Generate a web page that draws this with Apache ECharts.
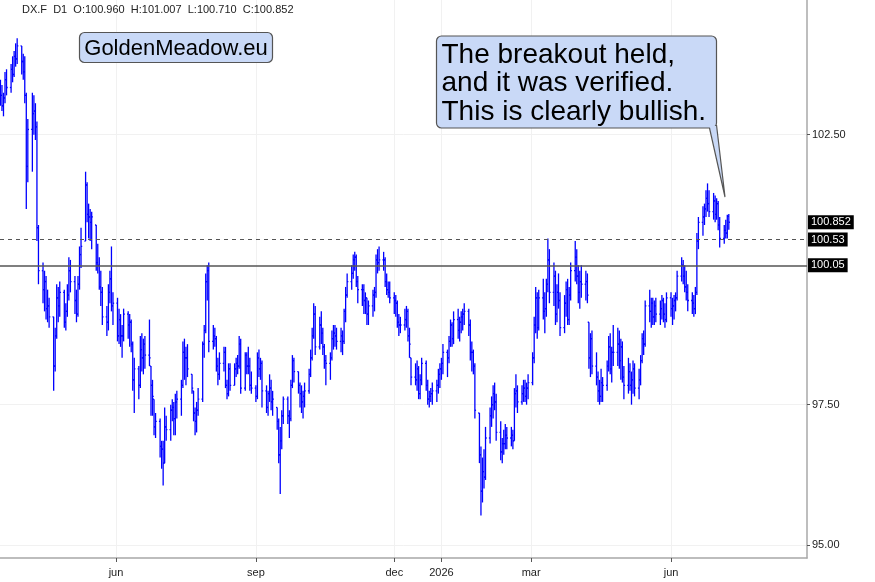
<!DOCTYPE html>
<html>
<head>
<meta charset="utf-8">
<title>DX.F D1</title>
<script src="https://cdn.jsdelivr.net/npm/echarts@6/dist/echarts.min.js"></script>
<style>
  html, body { margin: 0; padding: 0; background: #fff; }
  #chart { width: 875px; height: 582px; }
</style>
</head>
<body>
<div id="chart"></div>
<script>
// daily bars, one row per week (Mon..Fri), first bar 2025-03-17
const startDate = '2025-03-17'
const firstOpen = 103.35

const highs = [
  103.55, 103.45, 103.30, 103.70, 103.75,
  103.85, 104.00, 104.10, 104.25, 104.35,
  104.20, 104.05, 104.00, 103.30, 102.80,
  103.30, 103.25, 103.10, 102.75, 100.80,
  100.10, 99.95, 99.85, 99.60, 99.45,
  99.10, 98.90, 99.70, 99.65, 99.75,
  99.60, 99.35, 99.70, 100.20, 100.15,
  99.85, 99.60, 99.85, 100.40, 100.75,
  101.80, 101.60, 101.20, 101.10, 101.05,
  100.80, 100.45, 100.20, 99.95, 99.65,
  99.30, 99.70, 99.95, 100.40, 99.55,
  99.45, 99.25, 99.15, 98.95, 99.25,
  99.20, 99.15, 99.05, 98.65, 98.35,
  98.20, 98.75, 98.80, 98.70, 98.75,
  99.05, 98.20, 97.95, 97.60, 97.35,
  97.25, 96.85, 96.85, 97.45, 97.30,
  97.50, 97.60, 97.55, 97.70, 97.75,
  97.95, 98.65, 98.70, 98.55, 98.60,
  98.05, 97.75, 97.45, 97.55, 97.80,
  98.65, 98.95, 99.90, 100.05, 100.10,
  98.95, 98.90, 98.75, 98.35, 98.45,
  98.55, 98.55, 97.95, 98.25, 98.25,
  98.25, 98.35, 98.40, 98.75, 98.70,
  98.45, 98.45, 98.55, 98.35, 98.10,
  97.85, 98.45, 98.50, 98.35, 98.30,
  97.85, 97.75, 98.05, 97.95, 97.75,
  97.45, 97.25, 97.10, 97.40, 97.65,
  97.65, 97.40, 97.95, 98.40, 98.35,
  98.10, 97.90, 97.85, 97.75, 97.90,
  98.15, 98.50, 98.90, 99.35, 99.30,
  99.10, 99.20, 98.90, 98.60, 98.40,
  98.45, 98.85, 98.95, 98.95, 98.90,
  98.90, 98.85, 99.25, 99.65, 99.90,
  100.05, 100.25, 100.30, 100.25, 99.85,
  99.70, 99.70, 99.55, 99.45, 99.40,
  99.60, 99.65, 100.25, 100.35, 100.40,
  100.30, 100.20, 99.90, 99.75, 99.75,
  99.55, 99.50, 99.40, 99.15, 99.10,
  99.25, 99.30, 99.25, 98.90, 98.35,
  98.25, 98.30, 98.20, 98.05, 98.35,
  98.30, 97.95, 97.75, 97.80, 97.90,
  97.95, 98.15, 98.25, 98.35, 98.60,
  98.50, 98.75, 99.05, 99.00, 99.20,
  99.25, 99.10, 99.20, 99.25, 99.35,
  99.25, 99.05, 98.65, 98.50, 98.25,
  97.35, 96.75, 96.55, 96.70, 97.10,
  97.45, 97.65, 97.85, 97.90, 97.70,
  97.20, 96.90, 97.05, 97.15, 97.10,
  97.10, 97.05, 97.80, 98.05, 97.85,
  97.85, 97.95, 97.95, 97.90, 98.05,
  98.45, 99.10, 99.65, 99.55, 99.60,
  99.80, 99.55, 99.80, 100.55, 100.35,
  100.10, 99.95, 99.70, 99.90, 99.55,
  99.50, 99.75, 99.80, 99.65, 100.10,
  100.50, 100.35, 100.05, 99.95, 100.05,
  99.95, 99.90, 99.00, 98.80, 98.85,
  98.45, 98.10, 97.95, 98.15, 98.00,
  98.30, 98.75, 98.80, 98.55, 98.95,
  98.90, 98.85, 98.70, 98.65, 98.20,
  98.35, 98.25, 98.10, 98.30, 98.25,
  98.15, 98.40, 98.80, 98.85, 99.40,
  99.60, 99.45, 99.45, 99.40, 99.45,
  99.40, 99.50, 99.45, 99.35, 99.55,
  99.55, 99.45, 99.50, 99.55, 99.95,
  100.20, 100.15, 100.05, 99.95, 99.70,
  99.55, 99.50, 99.65, 100.65, 100.95,
  101.15, 101.20, 101.45, 101.58, 101.45,
  101.40, 101.35, 101.30, 101.25, 100.95,
  100.80, 100.90, 100.99, 101.007
]

const lows = [
  103.05, 102.95, 102.85, 103.10, 103.25,
  103.30, 103.50, 103.60, 103.80, 103.85,
  103.65, 103.55, 103.10, 101.10, 101.60,
  101.80, 102.50, 102.40, 100.50, 99.70,
  99.35, 99.20, 99.05, 99.00, 98.90,
  97.75, 98.10, 98.70, 99.00, 99.10,
  98.90, 98.85, 99.10, 99.40, 99.55,
  99.15, 99.00, 99.10, 99.60, 100.00,
  100.50, 100.85, 100.55, 100.50, 100.35,
  99.95, 99.90, 99.60, 99.30, 98.95,
  98.75, 98.85, 99.35, 99.20, 98.95,
  98.65, 98.60, 98.55, 98.35, 98.65,
  98.70, 98.55, 98.45, 97.75, 97.35,
  97.60, 97.80, 98.10, 98.05, 98.15,
  98.20, 97.30, 97.30, 96.95, 96.90,
  96.55, 96.35, 96.05, 96.45, 96.85,
  96.85, 97.20, 96.95, 96.95, 97.25,
  97.30, 97.80, 97.95, 97.85, 98.00,
  97.70, 97.20, 96.95, 97.00, 97.30,
  97.55, 98.35, 98.80, 99.40, 98.45,
  98.50, 98.55, 98.10, 97.85, 97.95,
  98.10, 97.80, 97.60, 97.65, 97.75,
  97.85, 98.00, 98.05, 98.15, 97.70,
  97.75, 98.05, 98.05, 97.75, 97.70,
  97.55, 97.60, 98.00, 97.95, 97.45,
  97.35, 97.30, 97.55, 97.40, 97.30,
  97.05, 96.45, 95.90, 96.70, 97.15,
  97.15, 96.90, 97.20, 97.80, 97.90,
  97.70, 97.45, 97.35, 97.25, 97.45,
  97.70, 98.00, 98.30, 98.70, 98.40,
  98.50, 98.60, 98.40, 98.15, 97.85,
  97.95, 98.30, 98.50, 98.55, 98.50,
  98.45, 98.40, 98.60, 99.00, 99.45,
  99.60, 99.80, 99.95, 99.65, 99.35,
  99.30, 99.15, 99.15, 98.95, 98.95,
  99.10, 99.20, 99.45, 99.90, 99.95,
  99.95, 99.65, 99.50, 99.45, 99.35,
  99.15, 99.10, 98.90, 98.75, 98.80,
  98.85, 98.90, 98.65, 98.35, 97.85,
  97.85, 97.75, 97.60, 97.60, 97.85,
  97.75, 97.50, 97.45, 97.55, 97.50,
  97.55, 97.70, 97.80, 97.95, 98.05,
  98.00, 98.25, 98.55, 98.55, 98.60,
  98.70, 98.65, 98.80, 98.85, 98.95,
  98.75, 98.30, 98.10, 98.05, 97.25,
  96.45, 95.52, 95.75, 96.00, 96.15,
  96.80, 97.10, 97.25, 97.40, 96.85,
  96.50, 96.45, 96.60, 96.70, 96.70,
  96.75, 96.70, 96.85, 97.45, 97.35,
  97.50, 97.55, 97.55, 97.50, 97.60,
  97.85, 98.25, 98.80, 98.70, 98.85,
  99.05, 98.80, 99.10, 99.55, 99.35,
  99.30, 98.95, 99.00, 99.25, 98.75,
  98.80, 99.10, 98.95, 98.95, 99.40,
  99.75, 99.70, 99.35, 99.25, 99.45,
  99.40, 99.35, 98.15, 98.00, 98.05,
  97.85, 97.55, 97.50, 97.55, 97.55,
  97.75, 98.10, 98.05, 97.90, 98.20,
  98.20, 98.15, 97.95, 97.90, 97.60,
  97.70, 97.75, 97.50, 97.70, 97.65,
  97.60, 97.85, 98.25, 98.40, 98.55,
  99.00, 98.90, 98.95, 98.95, 99.00,
  98.95, 99.05, 99.00, 98.90, 99.00,
  99.10, 98.95, 99.05, 99.20, 99.40,
  99.75, 99.70, 99.55, 99.40, 99.20,
  99.15, 99.10, 99.15, 99.50, 100.35,
  100.60, 100.80, 100.95, 101.05, 100.95,
  100.90, 100.85, 100.90, 100.70, 100.38,
  100.45, 100.55, 100.55, 100.71
]

const closes = [
  103.25, 103.05, 103.20, 103.55, 103.40,
  103.75, 103.65, 104.00, 103.95, 104.20,
  103.90, 103.70, 103.25, 101.90, 102.60,
  102.90, 102.95, 102.65, 100.75, 99.95,
  99.60, 99.75, 99.25, 99.30, 99.10,
  98.20, 98.75, 99.45, 99.30, 99.55,
  99.00, 99.20, 99.50, 99.95, 99.75,
  99.40, 99.15, 99.70, 100.25, 100.40,
  101.55, 101.00, 100.95, 100.85, 100.95,
  100.10, 100.05, 99.65, 99.55, 99.10,
  99.00, 99.55, 99.80, 99.30, 99.35,
  98.75, 99.05, 98.75, 98.75, 99.15,
  98.95, 99.00, 98.60, 97.95, 98.15,
  97.85, 98.50, 98.35, 98.60, 98.40,
  98.35, 97.85, 97.65, 97.10, 97.20,
  96.75, 96.70, 96.45, 97.10, 97.05,
  97.40, 97.45, 97.25, 97.55, 97.60,
  97.85, 98.45, 98.35, 98.35, 98.15,
  97.80, 97.35, 97.20, 97.40, 97.60,
  98.60, 98.85, 99.75, 99.95, 98.65,
  98.75, 98.70, 98.20, 98.05, 98.25,
  98.45, 97.85, 97.70, 98.15, 97.85,
  98.15, 98.25, 98.20, 98.60, 97.80,
  98.40, 98.20, 98.20, 97.85, 97.80,
  97.65, 98.35, 98.15, 98.25, 97.75,
  97.45, 97.70, 97.80, 97.55, 97.60,
  97.20, 96.60, 96.85, 97.30, 97.60,
  97.30, 97.25, 97.85, 98.30, 98.10,
  97.85, 97.70, 97.55, 97.65, 97.75,
  98.05, 98.35, 98.75, 99.15, 98.55,
  98.95, 98.80, 98.55, 98.30, 98.25,
  98.35, 98.70, 98.80, 98.75, 98.65,
  98.75, 98.65, 99.20, 99.50, 99.75,
  99.90, 100.15, 100.20, 99.75, 99.60,
  99.60, 99.40, 99.45, 99.15, 99.30,
  99.50, 99.55, 100.15, 100.10, 100.15,
  100.15, 99.75, 99.60, 99.55, 99.45,
  99.40, 99.35, 99.00, 98.95, 98.95,
  99.05, 99.20, 98.75, 98.60, 98.00,
  97.95, 98.15, 97.70, 97.95, 98.25,
  97.85, 97.60, 97.65, 97.70, 97.75,
  97.85, 98.05, 98.15, 98.25, 98.45,
  98.35, 98.65, 98.95, 98.70, 99.05,
  98.85, 99.00, 99.10, 99.15, 99.20,
  98.95, 98.45, 98.45, 98.20, 97.40,
  96.60, 95.95, 96.30, 96.20, 96.90,
  97.30, 97.50, 97.70, 97.55, 97.00,
  96.65, 96.80, 96.80, 96.95, 96.90,
  96.95, 96.85, 97.70, 97.75, 97.55,
  97.70, 97.80, 97.65, 97.80, 97.90,
  98.35, 98.95, 99.45, 98.90, 99.45,
  99.20, 99.25, 99.70, 100.15, 99.55,
  99.85, 99.15, 99.55, 99.40, 98.90,
  99.35, 99.60, 99.05, 99.50, 99.95,
  100.20, 99.85, 99.55, 99.75, 99.70,
  99.75, 99.50, 98.35, 98.70, 98.20,
  98.00, 97.75, 97.65, 97.90, 97.85,
  98.20, 98.55, 98.15, 98.45, 98.45,
  98.60, 98.30, 98.55, 98.00, 97.85,
  98.10, 97.85, 97.95, 98.15, 97.80,
  97.95, 98.30, 98.70, 98.60, 99.30,
  99.20, 99.35, 99.10, 99.30, 99.15,
  99.25, 99.40, 99.15, 99.05, 99.45,
  99.25, 99.30, 99.40, 99.45, 99.85,
  100.05, 99.85, 99.65, 99.55, 99.40,
  99.35, 99.25, 99.55, 100.50, 100.85,
  100.95, 101.10, 101.30, 101.20, 101.05,
  101.25, 101.00, 101.20, 100.80, 100.55,
  100.70, 100.65, 100.96, 100.852
]

const xTickDates = ['2025-06-01', '2025-09-01', '2025-12-01', '2026-01-01', '2026-03-01', '2026-06-01']
const xTickLabels = ['jun', 'sep', 'dec', '2026', 'mar', 'jun']
const yTickValues = [95, 97.5, 102.5]
const supportLevel = 100.05
const retestLevel = 100.53
const lastPrice = 100.852

const FONT = '"Liberation Sans", Arial, Helvetica, sans-serif'
const BAR_BLUE = '#0000ff'
const NOTE_FILL = '#c9d9f7'

function utc (s) {
  const p = s.split('-').map(Number)
  return Date.UTC(p[0], p[1] - 1, p[2])
}

// weekday dates for every bar
const dates = []
let t = utc(startDate)
while (dates.length < closes.length) {
  const wd = new Date(t).getUTCDay()
  if (wd !== 0 && wd !== 6) dates.push(t)
  t += 86400000
}

// rows: [time, open, close, low, high]; open is the previous close kept inside the bar range
const ohlc = closes.map((c, i) => {
  const prev = i === 0 ? firstOpen : closes[i - 1]
  const o = Math.min(Math.max(prev, lows[i]), highs[i])
  return [dates[i], o, c, lows[i], highs[i]]
})

const tickTimes = xTickDates.map(utc)

// OHLC bar: high-low stroke, open tick left, close tick right
function renderBar (params, api) {
  const x = api.value(0)
  const pO = api.coord([x, api.value(1)])
  const pC = api.coord([x, api.value(2)])
  const pL = api.coord([x, api.value(3)])
  const pH = api.coord([x, api.value(4)])
  const style = { stroke: BAR_BLUE, lineWidth: 1.3 }
  return {
    type: 'group',
    children: [
      { type: 'line', shape: { x1: pH[0], y1: pH[1], x2: pL[0], y2: pL[1] }, style },
      { type: 'line', shape: { x1: pO[0] - 1.2, y1: pO[1], x2: pO[0], y2: pO[1] }, style },
      { type: 'line', shape: { x1: pC[0], y1: pC[1], x2: pC[0] + 1.2, y2: pC[1] }, style }
    ]
  }
}

const chart = echarts.init(document.getElementById('chart'))

const option = {
  animation: false,
  backgroundColor: '#fff',
  grid: { left: 0, right: 68, top: 0, bottom: 24 },
  // time in ms on a value axis, so the month ticks can be placed exactly
  xAxis: {
    type: 'value',
    min: Date.UTC(2025, 2, 16, 17),
    max: Date.UTC(2026, 7, 29, 10),
    axisLine: { onZero: false, lineStyle: { color: '#a8a8a8', width: 1.5 } },
    axisTick: { show: true, length: 4, customValues: tickTimes, lineStyle: { color: '#555' } },
    axisLabel: {
      customValues: tickTimes,
      margin: 9,
      fontSize: 11,
      fontFamily: FONT,
      color: '#222',
      formatter: v => {
        const k = tickTimes.indexOf(v)
        return k >= 0 ? xTickLabels[k] : ''
      }
    },
    splitLine: { show: true, lineStyle: { color: '#f1f1f1', width: 1 } }
  },
  yAxis: {
    type: 'log',
    logBase: 10,
    position: 'right',
    min: 94.77,
    max: 105.09,
    axisLine: { show: true, lineStyle: { color: '#a8a8a8', width: 1.5 } },
    axisTick: { show: true, length: 3, customValues: yTickValues, lineStyle: { color: '#555' } },
    axisLabel: {
      customValues: yTickValues,
      margin: 5,
      fontSize: 11,
      fontFamily: FONT,
      color: '#222',
      formatter: v => Number(v).toFixed(2)
    },
    splitLine: { show: true, lineStyle: { color: '#f1f1f1', width: 1 } }
  },
  series: [
    {
      type: 'custom',
      name: 'DX.F',
      data: ohlc,
      encode: { x: 0, y: [1, 2, 3, 4] },
      clip: true,
      renderItem: renderBar,
      markLine: {
        silent: true,
        symbol: ['none', 'none'],
        animation: false,
        label: {
          position: 'end',
          distance: 1,
          color: '#fff',
          backgroundColor: '#000',
          padding: [2, 3, 1, 3],
          fontSize: 11,
          fontFamily: FONT
        },
        data: [
          { yAxis: supportLevel, lineStyle: { color: '#555', width: 1.5, type: 'solid' }, label: { formatter: supportLevel.toFixed(2) } },
          { yAxis: retestLevel, lineStyle: { color: '#555', width: 1, type: [4, 4] }, label: { formatter: retestLevel.toFixed(2) } },
          { yAxis: lastPrice, lineStyle: { color: 'rgba(0,0,0,0)', width: 1, type: 'solid' }, label: { formatter: lastPrice.toFixed(3) } }
        ]
      }
    }
  ],
  graphic: [
    {
      type: 'text',
      x: 22,
      y: 4,
      z: 100,
      style: {
        text: 'DX.F  D1  O:100.960  H:101.007  L:100.710  C:100.852',
        font: '11px ' + FONT,
        fill: '#222'
      }
    },
    {
      type: 'rect',
      z: 100,
      shape: { x: 79.5, y: 32.5, width: 193, height: 30, r: 5 },
      style: { fill: NOTE_FILL, stroke: '#555', lineWidth: 1.2 }
    },
    {
      type: 'text',
      z: 101,
      x: 176,
      y: 48.5,
      style: {
        text: 'GoldenMeadow.eu',
        font: '22px ' + FONT,
        fill: '#000',
        align: 'center',
        verticalAlign: 'middle'
      }
    },
    // speech bubble
    {
      type: 'rect',
      z: 100,
      shape: { x: 436.5, y: 36, width: 280, height: 92, r: 5 },
      style: { fill: NOTE_FILL, stroke: '#555', lineWidth: 1.2 }
    },
    {
      type: 'polygon',
      z: 101,
      shape: { points: [[709.5, 126], [716.5, 126], [725, 197]] },
      style: { fill: NOTE_FILL }
    },
    {
      type: 'polyline',
      z: 102,
      shape: { points: [[709.5, 128], [725, 197], [716.5, 125]] },
      style: { stroke: '#555', lineWidth: 1.2, fill: null }
    },
    {
      type: 'text',
      z: 103,
      x: 441.5,
      y: 41,
      style: {
        text: 'The breakout held,\nand it was verified.\nThis is clearly bullish.',
        font: '28px ' + FONT,
        lineHeight: 28.5,
        fill: '#000',
        align: 'left',
        verticalAlign: 'top'
      }
    }
  ]
}

chart.setOption(option)
</script>
</body>
</html>
